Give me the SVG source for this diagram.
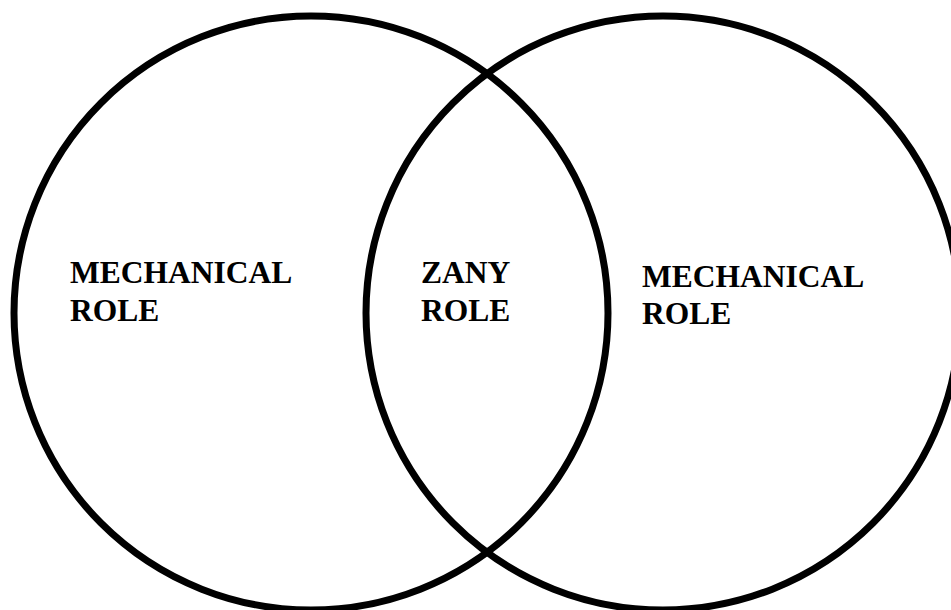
<svg xmlns="http://www.w3.org/2000/svg" width="951" height="610" viewBox="0 0 951 610">
<style>
.c{fill:none;stroke:#000;stroke-width:7}
.t{font-family:"Liberation Serif","Times New Roman",serif;font-weight:bold;font-size:31.5px;fill:#000}
</style>
<rect width="951" height="610" fill="#fff"/>
<g id="left-circle"><circle class="c" cx="311" cy="313" r="297"/>
<text class="t" x="70" y="283">MECHANICAL</text><text class="t" x="70" y="321">ROLE</text></g>
<g id="right-circle"><circle class="c" cx="663" cy="313" r="297"/>
<text class="t" x="642" y="287">MECHANICAL</text><text class="t" x="642" y="324">ROLE</text></g>
<g id="overlap"><text class="t" x="421" y="283">ZANY</text><text class="t" x="421" y="321">ROLE</text></g>
<g id="connectors"/>
</svg>
